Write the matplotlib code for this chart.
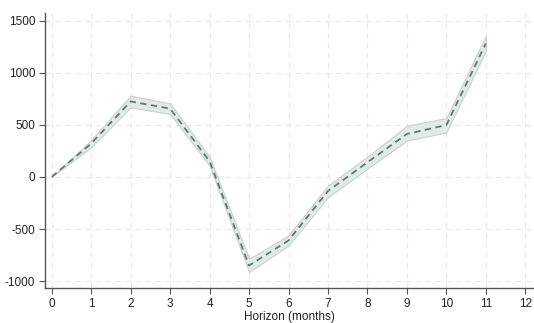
import matplotlib.pyplot as plt

# impulse response by horizon, with confidence band
horizon = [0, 1, 2, 3, 4, 5, 6, 7, 8, 9, 10, 11]
irf = [0, 320, 724, 655, 150, -850, -610, -135, 140, 412, 498, 1280]
lower = [0, 284, 667, 603, 108, -913, -658, -195, 80, 348, 427, 1210]
upper = [0, 354, 779, 705, 194, -785, -562, -83, 194, 491, 565, 1353]

plt.rcParams['font.family'] = ['Liberation Sans', 'DejaVu Sans']
plt.rcParams['axes.unicode_minus'] = False

fig = plt.figure(figsize=(5.34, 3.23), dpi=100)
ax = fig.add_axes([0.0843, 0.108, 0.9157, 0.851])

ax.fill_between(horizon, lower, upper, facecolor='#e2eae6', edgecolor='#c8d0cc',
                linewidth=0.8, zorder=2)
ax.plot(horizon, irf, color='#5c7a72', linestyle=(0, (3.5, 2.5)), linewidth=1.3, zorder=3)

ax.set_xlim(-0.17, 12.22)
ax.set_ylim(-1067, 1570)
ax.set_xticks(range(0, 13))
ax.set_yticks([-1000, -500, 0, 500, 1000, 1500])
ax.grid(True, color='#e8e8e8', linestyle=(0, (5, 4)), linewidth=0.8, zorder=0)

for s in ['top', 'right']:
    ax.spines[s].set_visible(False)
for s in ['left', 'bottom']:
    ax.spines[s].set_color('#555555')
    ax.spines[s].set_linewidth(1.0)

ax.tick_params(axis='both', colors='#555555', labelcolor='#222222', labelsize=8.5,
               length=4, width=0.8, pad=3)
ax.set_xlabel('Horizon (months)', fontsize=8.5, color='#222222', labelpad=1)

fig.savefig('out.png', dpi=100)
